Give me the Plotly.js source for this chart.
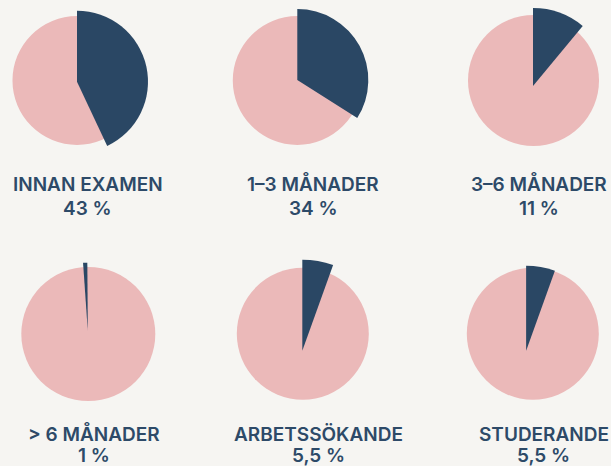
<!DOCTYPE html>
<html>
<head>
<meta charset="utf-8">
<script src="https://cdn.plot.ly/plotly-3.0.1.min.js"></script>
<style>
  html, body { margin: 0; padding: 0; background: #f6f5f2; }
  #chart { width: 611px; height: 466px; }
</style>
</head>
<body>
<div id="chart"></div>
<script>
// ---- data ----
const categories = ["INNAN EXAMEN", "1–3 MÅNADER", "3–6 MÅNADER", "> 6 MÅNADER", "ARBETSSÖKANDE", "STUDERANDE"];
const values = [43, 34, 11, 1, 5.5, 5.5];
const valueLabels = ["43 %", "34 %", "11 %", "1 %", "5,5 %", "5,5 %"];

// ---- geometry (pixels) ----
const W = 611, H = 466;
const pinkGeom = [[77, 80.5, 64.5], [297.3, 80.5, 64.5], [533.5, 80.5, 65.5], [88.3, 334, 67], [302.8, 333.7, 66], [532.8, 333.7, 66]];
const darkGeom = [[77, 81.7, 71], [297.3, 80, 71], [534, 86, 79], [87.8, 330.7, 68], [302.3, 350.7, 91], [532.3, 350.7, 91]];
const darkRot = [0, 0, 0, -4, 0, 0];
const labelPos = [[87.5, 184, 208], [313, 184, 208], [539, 184, 208], [94, 434, 455], [318.6, 434, 455], [543.5, 434, 455]];

const PINK = "#ebb9b9", NAVY = "#2a4764", TEXT = "#2d4a68";

function dom(g) {
  const [cx, cy, r] = g;
  return { x: [(cx - r) / W, (cx + r) / W], y: [1 - (cy + r) / H, 1 - (cy - r) / H] };
}

const traces = [];
const annotations = [];
categories.forEach((c, i) => {
  traces.push({
    type: "pie", values: [100], labels: [c + " total"],
    marker: { colors: [PINK], line: { width: 0 } },
    textinfo: "none", hoverinfo: "skip", sort: false, showlegend: false,
    domain: dom(pinkGeom[i])
  });
  traces.push({
    type: "pie", values: [values[i], 100 - values[i]], labels: [c, c + " rest"],
    marker: { colors: [NAVY, "rgba(0,0,0,0)"], line: { width: 0 } },
    textinfo: "none", hoverinfo: "skip", sort: false, direction: "clockwise",
    rotation: darkRot[i], showlegend: false,
    domain: dom(darkGeom[i])
  });
  const [lx, ly1, ly2] = labelPos[i];
  annotations.push({
    xref: "paper", yref: "paper", x: lx / W, y: 1 - ly1 / H, xanchor: "center", yanchor: "middle",
    text: c, showarrow: false, font: { family: "Inter", size: 19, weight: 600, color: TEXT }
  });
  annotations.push({
    xref: "paper", yref: "paper", x: lx / W, y: 1 - ly2 / H, xanchor: "center", yanchor: "middle",
    text: valueLabels[i], showarrow: false, font: { family: "Inter", size: 19, weight: 600, color: TEXT }
  });
});

Plotly.newPlot("chart", traces, {
  width: W, height: H,
  margin: { l: 0, r: 0, t: 0, b: 0 },
  paper_bgcolor: "#f6f5f2", plot_bgcolor: "#f6f5f2",
  showlegend: false,
  annotations: annotations
}, { displayModeBar: false, staticPlot: true });
</script>
</body>
</html>
